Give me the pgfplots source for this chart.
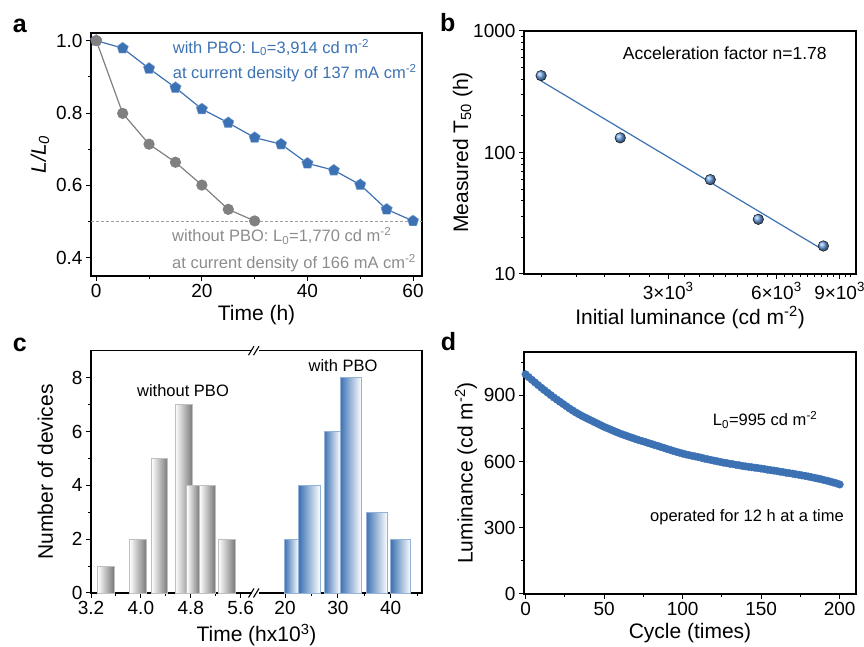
\documentclass[border=0pt]{standalone}
\usepackage{fontspec}
\setmainfont{Liberation Sans}
\usepackage{pgfplots}
\pgfplotsset{compat=1.18}

\definecolor{pboblue}{HTML}{3C72B4}
\definecolor{ballblue}{HTML}{6A9EE0}
\definecolor{pbogray}{HTML}{808080}
\definecolor{txtgray}{HTML}{8C8C8C}

\pgfplotsset{
  panel/.style={
    scale only axis, anchor=south west, clip=false,
    axis line style={line width=1.3bp},
    tick align=outside, xtick pos=bottom, ytick pos=left,
    major tick length=5bp, minor tick length=3bp,
    every tick/.style={black, line width=1bp},
    tick label style={font=\fontsize{19bp}{22bp}\selectfont},
    label style={font=\fontsize{21bp}{25bp}\selectfont},
    /pgf/number format/assume math mode=true,
  },
  gbar/.style={ybar interval, draw=gray!50, line width=0.8bp,
    left color=white, right color=gray!95!black},
  bbar/.style={ybar interval, draw=pboblue!55, line width=0.8bp,
    left color=pboblue, right color=white},
}
\newcommand{\ann}{\fontsize{16.5bp}{20bp}\selectfont}

\begin{document}
\begin{tikzpicture}[x=1bp,y=1bp]
\path[use as bounding box] (0,0) rectangle (864,647);

% ---------- a ----------
\begin{axis}[panel, at={(91bp,371bp)}, width=331bp, height=243bp,
  xmin=-1, xmax=61.7, ymin=0.35, ymax=1.021,
  xtick={0,20,40,60}, minor xtick={10,30,50},
  ytick={0.4,0.6,0.8,1.0}, minor ytick={0.5,0.7,0.9},
  yticklabel style={/pgf/number format/fixed, /pgf/number format/precision=1,
    /pgf/number format/fixed zerofill},
  xlabel={Time (h)}, ylabel={\textit{L/L}\textsubscript{\textit{0}}},
]
\addplot[densely dashed, color=gray!75, line width=0.8bp] coordinates {(-1,0.5) (61.7,0.5)};
\addplot[color=pboblue, line width=1.2bp, mark=pentagon*, mark size=6bp,
  mark options={fill=pboblue, draw=pboblue!60, line width=0.4bp}] coordinates {
  (0,1.0) (5,0.979) (10,0.923) (15,0.870) (20,0.811) (25,0.773) (30,0.732)
  (35,0.714) (40,0.661) (45,0.642) (50,0.602) (55,0.534) (60,0.502)};
\addplot[color=pbogray, line width=1.2bp, mark=*, mark size=5bp,
  mark options={fill=pbogray}] coordinates {
  (0,1.0) (5,0.799) (10,0.714) (15,0.664) (20,0.601) (25,0.534) (30,0.502)};
\end{axis}
\node[anchor=base west, inner sep=0, text=pboblue, font=\ann] at (172.7,593.7) {with PBO: L\textsubscript{0}=3,914 cd m\textsuperscript{-2}};
\node[anchor=base west, inner sep=0, text=pboblue, font=\ann] at (172.7,568) {at current density of 137 mA cm\textsuperscript{-2}};
\node[anchor=base west, inner sep=0, text=txtgray, font=\ann] at (172,405.3) {without PBO: L\textsubscript{0}=1,770 cd m\textsuperscript{-2}};
\node[anchor=base west, inner sep=0, text=txtgray, font=\ann] at (172,378.7) {at current density of 166 mA cm\textsuperscript{-2}};

% ---------- b ----------
\begin{axis}[panel, at={(524bp,373bp)}, width=332bp, height=243bp,
  xmode=log, ymode=log, xmin=1190, xmax=10000, ymin=10, ymax=1000,
  xtick={3000,6000,9000},
  xticklabels={3×10\textsuperscript{3},6×10\textsuperscript{3},9×10\textsuperscript{3}},
  minor xtick={1333.3,1666.7,2000,2333.3,2666.7,3333.3,3666.7,4000,4333.3,4666.7,
    5000,5333.3,5666.7,6333.3,6666.7,7000,7333.3,7666.7,8000,8333.3,8666.7,9333.3,9666.7},
  ytick={10,100,1000}, yticklabels={10,100,1000},
  xlabel={Initial luminance (cd m\textsuperscript{-2})},
  ylabel={Measured T\textsubscript{50} (h)}, ylabel shift=-6bp,
]
\addplot[color=pboblue, line width=1.2bp] coordinates {(1328,388) (8112,15.75)};
\addplot[only marks, mark=ball, mark size=5.3bp, mark options={ball color=ballblue}] coordinates {
  (1328,429) (2205,132) (3928,59.8) (5344,28.2) (8112,17.0)};
\end{axis}
\node[anchor=base west, inner sep=0, font=\fontsize{17.5bp}{21bp}\selectfont] at (622.7,587) {Acceleration factor n=1.78};

% ---------- c ----------
\begin{axis}[panel, at={(91bp,54bp)}, width=164bp, height=242.3bp,
  xmin=3.2, xmax=5.83, ymin=0, ymax=9,
  xtick={3.2,4.0,4.8,5.6}, xticklabels={3.2,4.0,4.8,5.6}, minor xtick={3.6,4.4,5.2},
  ytick={0,2,4,6,8}, minor ytick={1,3,5,7},
  ylabel={Number of devices}, ylabel shift=12bp,
]
\addplot[gbar] coordinates {(3.307,1) (3.568,1)};
\addplot[gbar] coordinates {(3.819,2) (4.085,2)};
\addplot[gbar] coordinates {(4.171,5) (4.427,5)};
\addplot[gbar] coordinates {(4.549,7) (4.826,7)};
\addplot[gbar] coordinates {(4.736,4) (4.938,4)};
\addplot[gbar] coordinates {(4.938,4) (5.189,4)};
\addplot[gbar] coordinates {(5.243,2) (5.509,2)};
\end{axis}
\begin{axis}[panel, at={(255bp,54bp)}, width=167bp, height=242.3bp,
  xmin=14.32, xmax=45.93, ymin=0, ymax=9,
  xtick={20,30,40}, minor xtick={25,35,45}, ytick=\empty,
]
\addplot[bbar] coordinates {(19.87,2) (22.59,2)};
\addplot[bbar] coordinates {(22.59,4) (26.69,4)};
\addplot[bbar] coordinates {(27.38,6) (30.47,6)};
\addplot[bbar] coordinates {(30.47,8) (34.45,8)};
\addplot[bbar] coordinates {(35.33,3) (39.37,3)};
\addplot[bbar] coordinates {(40.0,2) (43.79,2)};
\end{axis}
% hide the two inner frame lines at the axis break
\draw[white, line width=3bp] (255,55.6) -- (255,294.7);
\foreach \yy in {54,296.3}{
  \fill[white] (251.5,\yy-2) rectangle (258.5,\yy+2);
  \draw[line width=1.1bp] (248.5,\yy-4.5) -- (254,\yy+4.5);
  \draw[line width=1.1bp] (253.5,\yy-4.5) -- (259,\yy+4.5);
}
\node[font=\fontsize{21bp}{25bp}\selectfont] at (256.5,12) {Time (hx10\textsuperscript{3})};
\node[anchor=base, inner sep=0, font=\ann] at (183,250.3) {without PBO};
\node[anchor=base, inner sep=0, font=\ann] at (343,275.3) {with PBO};

% ---------- d ----------
\begin{axis}[panel, at={(524bp,53bp)}, width=332bp, height=242bp,
  xmin=-1, xmax=210.4, ymin=0, ymax=1096,
  xtick={0,50,100,150,200}, minor xtick={25,75,125,175},
  ytick={0,300,600,900}, minor ytick={150,450,750,1050},
  xlabel={Cycle (times)}, ylabel={Luminance (cd m\textsuperscript{-2})},
]
\addplot[only marks, mark=*, mark size=3.8bp, color=pboblue] coordinates {
  (0,995) (2,982) (4,970) (6,958) (8,946) (10,934) (12,923) (14,912) (16,901) (18,890)
  (20,880) (22,870) (24,860) (26,850) (28,840) (30,831) (32,822) (34,814) (36,806) (38,799)
  (40,792) (42,785) (44,778) (46,771) (48,764) (50,757) (52,751) (54,745) (56,739) (58,733)
  (60,727) (62,722) (64,717) (66,712) (68,707) (70,702) (72,697) (74,693) (76,689) (78,684)
  (80,680) (82,675) (84,671) (86,666) (88,662) (90,657) (92,653) (94,648) (96,644) (98,640)
  (100,636) (102,632) (104,629) (106,626) (108,623) (110,620) (112,617) (114,613) (116,610)
  (118,607) (120,604) (122,601) (124,598) (126,595) (128,593) (130,590) (132,588) (134,585)
  (136,583) (138,580) (140,578) (142,576) (144,574) (146,572) (148,570) (150,568) (152,566)
  (154,563) (156,561) (158,559) (160,557) (162,554) (164,552) (166,549) (168,547) (170,545)
  (172,542) (174,540) (176,537) (178,535) (180,532) (182,529) (184,526) (186,523) (188,520)
  (190,516) (192,513) (194,509) (196,505) (198,501) (200,496)};
\end{axis}
\node[anchor=base west, inner sep=0, font=\ann] at (712.7,221) {L\textsubscript{0}=995 cd m\textsuperscript{-2}};
\node[anchor=base west, inner sep=0, font=\ann] at (650,125.3) {operated for 12 h at a time};

% ---------- panel letters ----------
\begin{scope}[every node/.style={anchor=base west, inner sep=0, font=\fontsize{25bp}{30bp}\selectfont\bfseries}]
\node at (12.7,614) {a};
\node at (440,615.3) {b};
\node at (12.7,295.3) {c};
\node at (440.7,296) {d};
\end{scope}
\end{tikzpicture}
\end{document}
